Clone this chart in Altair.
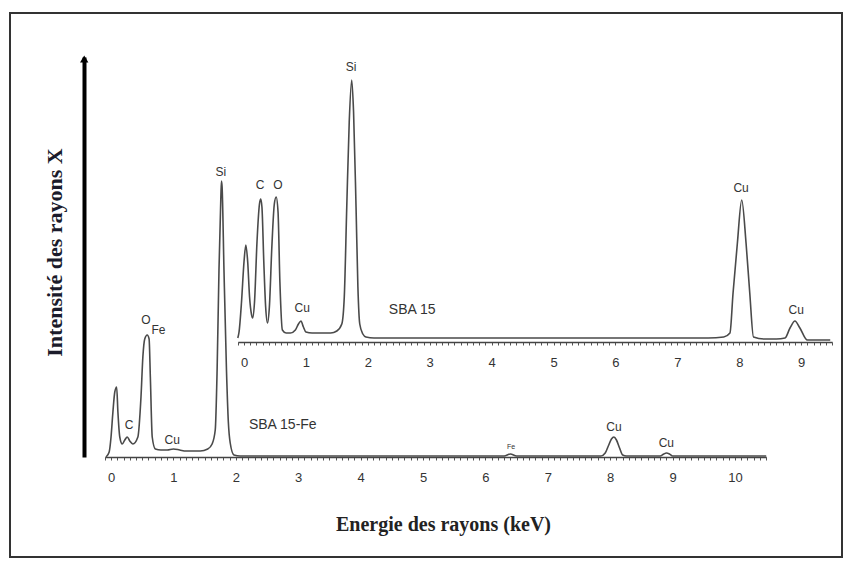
import altair as alt
import pandas as pd

# ---------------- data ----------------
# Lower spectrum: SBA 15-Fe
lower_energy = [-0.08, -0.03, 0.0, 0.03, 0.06, 0.09, 0.11, 0.14, 0.18, 0.22,
                0.26, 0.30, 0.35, 0.43, 0.48, 0.51, 0.54, 0.58, 0.61, 0.63,
                0.66, 0.71, 0.8, 0.9, 1.0, 1.1, 1.2, 1.3, 1.43, 1.55,
                1.62, 1.67, 1.70, 1.73, 1.76, 1.77, 1.78, 1.81, 1.85, 1.88,
                1.91, 1.97, 2.07, 3.0, 4.0, 5.0, 6.0, 6.3, 6.4, 6.5,
                6.6, 7.0, 7.5, 7.85, 7.92, 7.97, 8.02, 8.06, 8.10, 8.15,
                8.2, 8.26, 8.5, 8.8, 8.86, 8.9, 8.95, 9.0, 9.5, 10.0,
                10.5]
lower_intensity = [0, 5, 20, 45, 65, 70, 45, 20, 13, 17,
                   20, 16, 13, 20, 60, 100, 118, 122, 118, 80,
                   20, 8, 7, 7, 8, 7, 6, 6, 6, 8,
                   13, 27, 87, 187, 260, 276, 270, 187, 87, 35,
                   14, 2, 1, 1, 1, 1, 1, 1, 3, 1,
                   1, 1, 1, 1, 4, 11, 18, 20, 17, 9,
                   2, 1, 1, 1, 3, 4, 3, 1, 1, 1,
                   1]

# Upper spectrum: SBA 15
upper_energy = [-0.1, -0.08, -0.04, 0.0, 0.03, 0.06, 0.09, 0.12, 0.14, 0.17,
                0.21, 0.25, 0.27, 0.29, 0.32, 0.35, 0.38, 0.41, 0.45, 0.49,
                0.52, 0.55, 0.58, 0.62, 0.68, 0.75, 0.83, 0.88, 0.92, 0.96,
                1.0, 1.1, 1.2, 1.3, 1.4, 1.5, 1.58, 1.62, 1.66, 1.70,
                1.74, 1.77, 1.81, 1.84, 1.87, 1.92, 1.97, 2.1, 3.0, 4.0,
                5.0, 6.0, 7.0, 7.5, 7.75, 7.85, 7.90, 7.97, 8.04, 8.11,
                8.17, 8.23, 8.4, 8.6, 8.74, 8.82, 8.90, 8.98, 9.1, 9.3,
                9.47]
upper_intensity = [4, 10, 40, 80, 97, 80, 45, 28, 24, 40,
                   100, 138, 143, 135, 80, 35, 19, 35, 95, 138,
                   145, 130, 60, 12, 9, 9, 12, 18, 21, 15,
                   10, 9, 9, 9, 9, 11, 18, 45, 135, 220,
                   262, 230, 135, 55, 18, 8, 5, 4, 4, 4,
                   4, 4, 4, 4, 5, 9, 49, 99, 142, 99,
                   49, 5, 3, 3, 4, 14, 21, 14, 2, 2,
                   2]

# Peak labels
lower_labels = ["C", "O", "Fe", "Cu", "Si", "Fe", "Cu", "Cu"]
lower_label_energy = [0.29, 0.56, 0.76, 0.98, 1.76, 6.41, 8.06, 8.90]
lower_label_intensity = [32, 137, 127, 17, 285, 10, 30, 14]
lower_label_size = [12, 12, 12, 12, 12, 7, 12, 12]

upper_labels = ["C", "O", "Cu", "Si", "Cu", "Cu"]
upper_label_energy = [0.26, 0.55, 0.94, 1.73, 8.03, 8.92]
upper_label_intensity = [157, 157, 34, 275, 154, 32]

sample_names = ["SBA 15-Fe", "SBA 15"]
sample_energy = [2.21, 2.34]
sample_intensity = [32, 32]

arrow_energy = [-0.43]
arrow_intensity = [398]

x_title = "Energie des rayons (keV)"
y_title = "Intensité des rayons X"

# ---------------- layout ----------------
W, H = 832, 544
LINE_COLOR = "#4a4a4a"
TEXT_COLOR = "#333333"
SANS = "Liberation Sans"
SERIF = "Liberation Serif"

lower_ticks = [round(-0.1 + 0.1 * i, 1) for i in range(107)]
upper_ticks = [round(-0.1 + 0.1 * i, 1) for i in range(97)]
label_expr = "abs(datum.value - round(datum.value)) < 0.001 && datum.value >= 0 ? format(round(datum.value), 'd') : ''"

common_axis = dict(
    orient="bottom", labelExpr=label_expr, labelOverlap=False, labelFlush=False,
    tickSize=3, tickColor="#555555", tickWidth=1, domainColor="#444444", domainWidth=1.5,
    labelFont=SANS, labelFontSize=13, labelColor=TEXT_COLOR, labelPadding=11, grid=False,
)

x_lower = alt.X(
    "energy:Q",
    scale=alt.Scale(domain=[-0.1, 10.5], range=[94.8, 756.2], nice=False, zero=False),
    axis=alt.Axis(values=lower_ticks, offset=-100, title=x_title, titleFont=SERIF,
                  titleFontSize=20, titleFontWeight="bold", titleColor="#222222",
                  titleX=433, titleY=67, titleBaseline="middle", titleAlign="center",
                  **common_axis),
)
y_lower = alt.Y(
    "intensity:Q",
    scale=alt.Scale(domain=[0, 400], range=[444, 44], nice=False, zero=False),
    axis=alt.Axis(orient="left", offset=-74, domainWidth=4, domainColor="#000000",
                  ticks=False, labels=False, grid=False, title=y_title,
                  titleFont=SERIF, titleFontSize=22, titleFontWeight="bold",
                  titleColor="#1b1b2b", titleX=-30, titleY=239,
                  titleBaseline="middle", titleAngle=270),
)

x_upper = alt.X(
    "energy:Q",
    scale=alt.Scale(domain=[-0.1, 9.5], range=[227.8, 822.1], nice=False, zero=False),
    axis=alt.Axis(values=upper_ticks, offset=-215, title=None, **common_axis),
)
y_upper = alt.Y(
    "intensity:Q",
    scale=alt.Scale(domain=[0, 300], range=[329, 29], nice=False, zero=False),
    axis=None,
)

lower_df = pd.DataFrame({"energy": lower_energy, "intensity": lower_intensity})
upper_df = pd.DataFrame({"energy": upper_energy, "intensity": upper_intensity})
lower_lab_df = pd.DataFrame({"label": lower_labels, "energy": lower_label_energy,
                             "intensity": lower_label_intensity, "fs": lower_label_size})
upper_lab_df = pd.DataFrame({"label": upper_labels, "energy": upper_label_energy,
                             "intensity": upper_label_intensity})
lower_name_df = pd.DataFrame({"label": [sample_names[0]], "energy": [sample_energy[0]],
                              "intensity": [sample_intensity[0]]})
upper_name_df = pd.DataFrame({"label": [sample_names[1]], "energy": [sample_energy[1]],
                              "intensity": [sample_intensity[1]]})
arrow_df = pd.DataFrame({"energy": arrow_energy, "intensity": arrow_intensity})

lower_line = alt.Chart(lower_df).mark_line(
    color=LINE_COLOR, strokeWidth=1.6, interpolate="monotone"
).encode(x=x_lower, y=y_lower)

lower_text = alt.Chart(lower_lab_df).mark_text(
    font=SANS, color=TEXT_COLOR, baseline="middle", align="center"
).encode(x=x_lower, y=y_lower, text="label:N", size=alt.Size("fs:Q", scale=None, legend=None))

lower_name = alt.Chart(lower_name_df).mark_text(
    font=SANS, fontSize=14, color=TEXT_COLOR, baseline="middle", align="left"
).encode(x=x_lower, y=y_lower, text="label:N")

arrow = alt.Chart(arrow_df).mark_point(
    shape="triangle-up", filled=True, color="#000000", size=70, opacity=1
).encode(x=x_lower, y=y_lower)

upper_line = alt.Chart(upper_df).mark_line(
    color=LINE_COLOR, strokeWidth=1.6, interpolate="monotone"
).encode(x=x_upper, y=y_upper)

upper_text = alt.Chart(upper_lab_df).mark_text(
    font=SANS, fontSize=12, color=TEXT_COLOR, baseline="middle", align="center"
).encode(x=x_upper, y=y_upper, text="label:N")

upper_name = alt.Chart(upper_name_df).mark_text(
    font=SANS, fontSize=14, color=TEXT_COLOR, baseline="middle", align="left"
).encode(x=x_upper, y=y_upper, text="label:N")

lower = alt.layer(lower_line, lower_text, lower_name, arrow)
upper = alt.layer(upper_line, upper_text, upper_name)

chart = alt.layer(lower, upper).resolve_scale(
    x="independent", y="independent"
).properties(
    width=W, height=H,
    autosize=alt.AutoSizeParams(type="none"),
    padding={"left": 2, "top": 5, "right": 2, "bottom": 5},
    background="white",
).configure_view(stroke="#333333", strokeWidth=2)

chart.save("out.html", embed_options={"renderer": "svg", "actions": False})
